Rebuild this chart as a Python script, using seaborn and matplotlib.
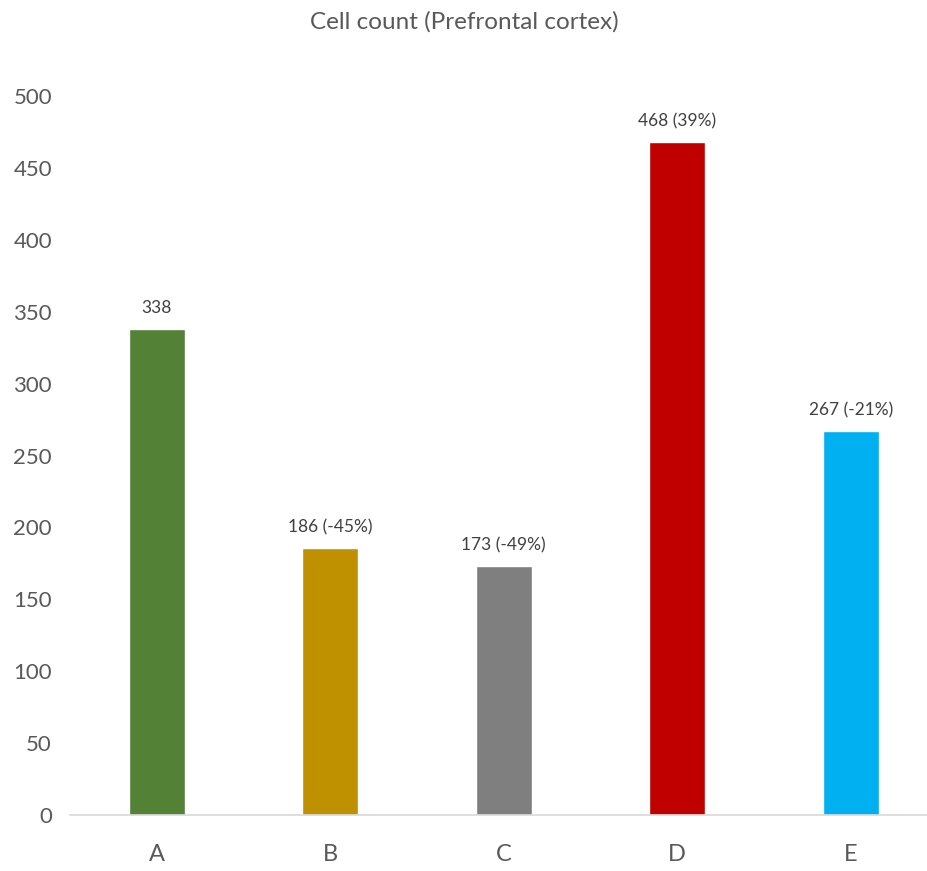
import matplotlib
matplotlib.use("Agg")
import matplotlib.pyplot as plt
import seaborn as sns
import pandas as pd

groups = ["A", "B", "C", "D", "E"]
counts = [338, 186, 173, 468, 267]
labels = ["338", "186 (-45%)", "173 (-49%)", "468 (39%)", "267 (-21%)"]
colors = ["#538135", "#BF9000", "#7F7F7F", "#C00000", "#00B0F0"]
y_ticks = [0, 50, 100, 150, 200, 250, 300, 350, 400, 450, 500]

sns.set_theme(style="white")
plt.rcParams["font.family"] = ["Lato", "DejaVu Sans"]

df = pd.DataFrame({"group": groups, "count": counts})

fig = plt.figure(figsize=(9.28, 8.71), dpi=100)
ax = fig.add_axes([70 / 928, 56 / 871, 858 / 928, 719 / 871])

sns.barplot(data=df, x="group", y="count", hue="group", palette=colors,
            width=0.323, legend=False, saturation=1, ax=ax)

ax.set_xlim(-0.5, 4.445)
ax.set_ylim(0, 500)
ax.set_yticks(y_ticks)
ax.set_yticklabels([str(v) for v in y_ticks])
ax.set_xlabel("")
ax.set_ylabel("")

for spine in ["left", "right", "top"]:
    ax.spines[spine].set_visible(False)
ax.spines["bottom"].set_color("#D9D9D9")
ax.spines["bottom"].set_linewidth(1.2)

ax.tick_params(axis="y", length=0, pad=13, labelsize=16, labelcolor="#595959")
ax.tick_params(axis="x", length=0, pad=21, labelsize=17, labelcolor="#595959")

for i, (v, t) in enumerate(zip(counts, labels)):
    ax.annotate(t, xy=(i, v), xytext=(0, 9), textcoords="offset points",
                ha="center", va="bottom", fontsize=12.5, color="#404040")

fig.text(0.5, 1 - 22 / 871, "Cell count (Prefrontal cortex)", ha="center",
         va="center", fontsize=17.5, color="#595959")

fig.savefig("out.png", dpi=100)
